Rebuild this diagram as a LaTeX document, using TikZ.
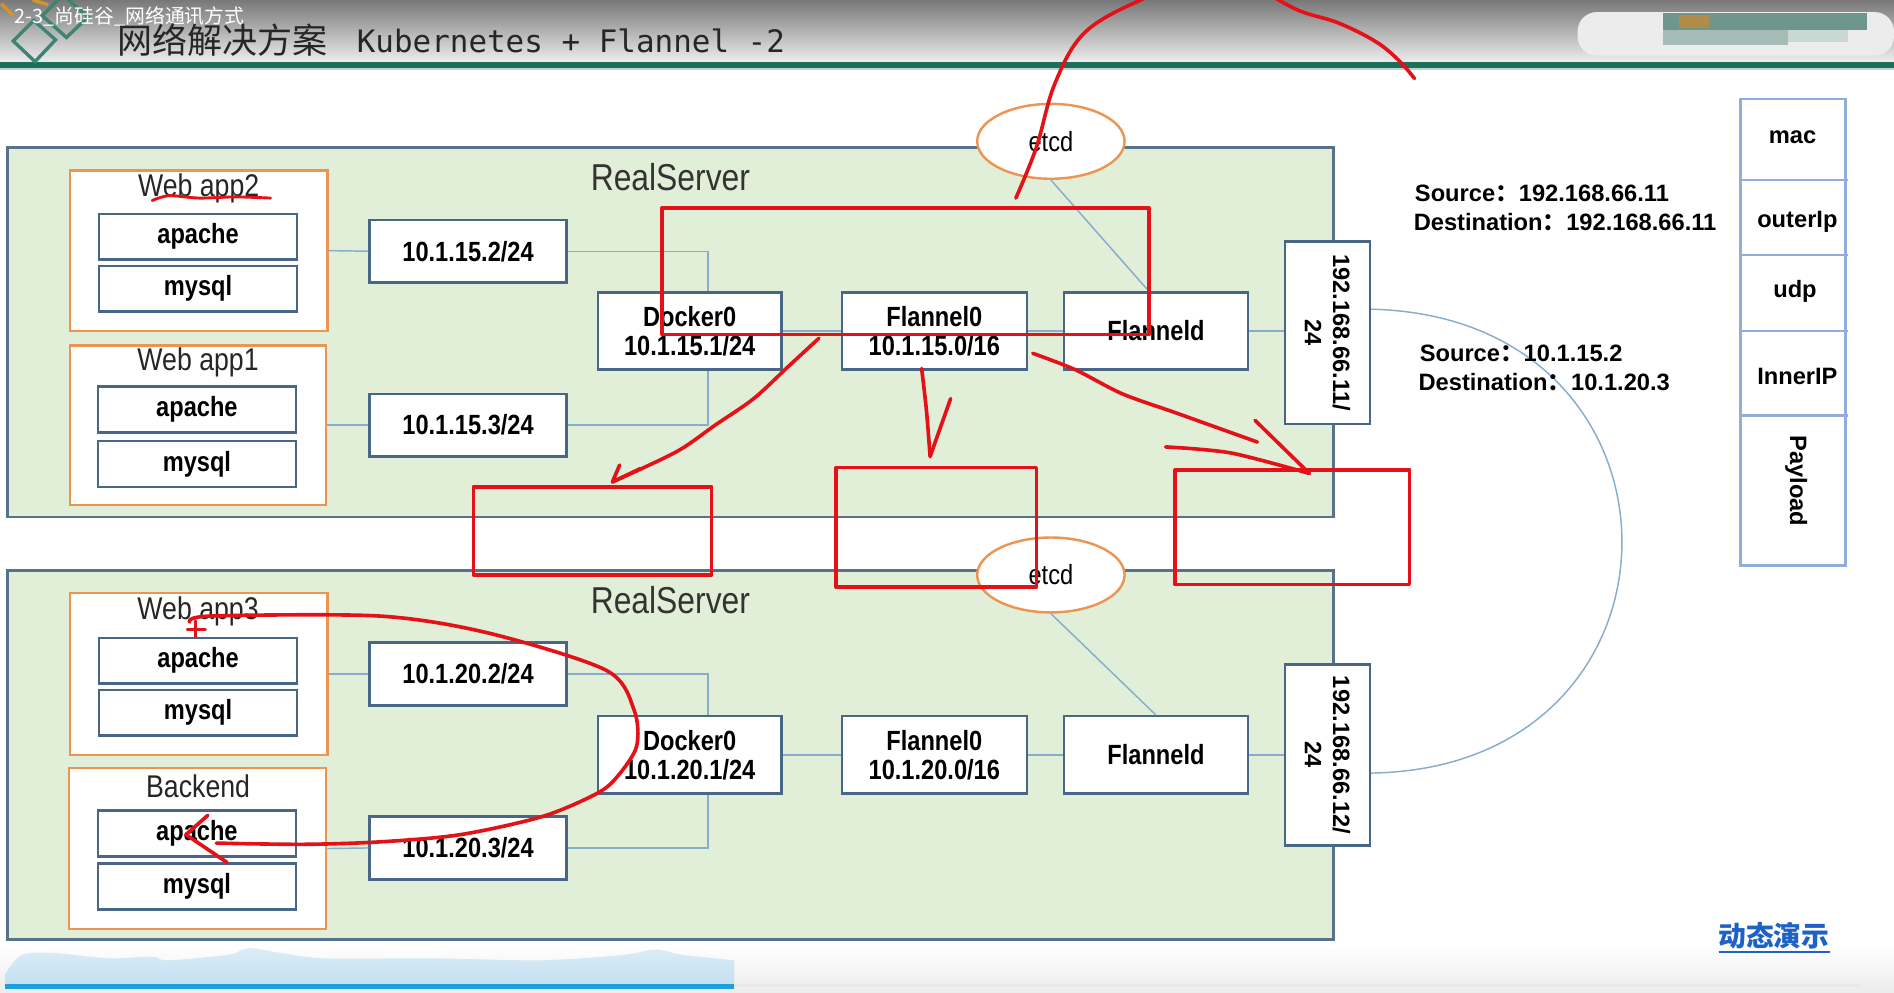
\documentclass[tikz,border=0pt]{standalone}
\usepackage{fontspec}
\setmainfont{Liberation Sans}
\newfontfamily\nar[FakeStretch=0.85]{Liberation Sans}
\newfontfamily\cjk{Noto Sans CJK SC}
\newfontfamily\monof{DejaVu Sans Mono}
\usetikzlibrary{shapes.geometric}
\definecolor{srvfill}{RGB}{225,239,217}
\definecolor{srvline}{RGB}{88,114,140}
\definecolor{boxline}{RGB}{72,102,136}
\definecolor{orng}{RGB}{236,148,82}
\definecolor{conn}{RGB}{135,172,205}
\definecolor{redink}{RGB}{228,18,24}
\definecolor{stackline}{RGB}{146,172,220}
\definecolor{barteal}{RGB}{26,112,90}
\definecolor{bartop}{RGB}{120,120,120}
\definecolor{barbot}{RGB}{236,236,236}
\definecolor{wave}{RGB}{196,224,241}
\definecolor{progress}{RGB}{30,160,222}
\definecolor{demo}{RGB}{30,98,200}
\definecolor{logoorange}{RGB}{210,150,40}
\definecolor{blurA}{RGB}{110,150,140}
\definecolor{blurB}{RGB}{165,188,182}
\definecolor{blurC}{RGB}{176,140,70}
\tikzset{
  server/.style={draw=srvline, line width=1.2pt, fill=srvfill, inner sep=0pt, minimum width=549pt, minimum height=153pt},
  appbox/.style={draw=orng, line width=1pt, fill=white, inner sep=0pt, minimum width=106.5pt, minimum height=66.5pt},
  svcbox/.style={draw=boxline, line width=1pt, fill=white, inner sep=0pt, minimum width=82pt, minimum height=19pt, font=\nar\bfseries\fontsize{11.5}{12}\selectfont},
  ipbox/.style={svcbox, minimum width=81.5pt, minimum height=26pt},
  devbox/.style={svcbox, align=center, minimum width=76pt, minimum height=32pt},
  ethbox/.style={draw=boxline, line width=1pt, fill=white, inner sep=0pt, minimum width=35pt, minimum height=75.5pt},
  ethtext/.style={rotate=-90, align=center, inner sep=0pt, font=\bfseries\fontsize{9.8}{11.7}\selectfont},
  etcdnode/.style={ellipse, draw=orng, line width=1pt, fill=white, inner sep=0pt, minimum width=61pt, minimum height=31pt, font=\nar\fontsize{11.5}{12}\selectfont},
  apptitle/.style={inner sep=0pt, font=\nar\fontsize{13}{14}\selectfont, text=black!85},
  srvtitle/.style={inner sep=0pt, font=\nar\fontsize{15.5}{16}\selectfont, text=black!80},
  link/.style={draw=conn, line width=0.6pt},
  infotext/.style={anchor=west, inner sep=0pt, text height=7pt, text depth=0pt, font=\bfseries\fontsize{9.8}{11}\selectfont},
  stacklabel/.style={inner sep=0pt, font=\bfseries\fontsize{9.8}{11}\selectfont},
  ink/.style={draw=redink, line width=1.5pt, line cap=round, line join=round},
}
\begin{document}
\begin{tikzpicture}[x=0.5pt,y=-0.5pt]
\useasboundingbox (0,0) rectangle (1568,822);
\fill[white] (0,0) rectangle (1568,822);
% ---------- title bar ----------
\shade[top color=bartop, bottom color=barbot] (0,0) rectangle (1568,51);
\fill[barteal] (0,51) rectangle (1568,56);
\fill[barteal!30] (0,56) rectangle (1568,58);
\fill[gray!15, rounded corners=8pt] (1306,10) rectangle (1568,46);
\fill[blurA] (1377,11) rectangle (1546,25);
\fill[blurB] (1377,25) rectangle (1480,37);
\fill[blurB!60] (1480,25) rectangle (1530,35);
\fill[blurC] (1390,12.5) rectangle (1415,23.5);
% logo
\draw[barteal!85, line width=1.4pt] (11,34) -- (28,17) -- (46,33) -- (29,51) -- cycle;
\draw[barteal!85, line width=1.4pt] (35,13) -- (52,-4) -- (73,14) -- (55,31) -- cycle;
\draw[logoorange, line width=1.4pt] (1,3) -- (11,13);
\draw[logoorange, line width=1.4pt] (27,0) -- (40,4);
\node[anchor=west, inner sep=0pt, text height=6.5pt, text depth=1pt, text=white, font=\cjk\fontsize{8.2}{9}\selectfont] (ov) at (12,14) {2-3\_尚硅谷\_网络通讯方式};
\node[anchor=west, inner sep=0pt, text height=10pt, text depth=0.5pt, font=\cjk\fontsize{14.5}{16}\selectfont, text=black!85] (title) at (97,35) {网络解决方案};
\node[anchor=west, inner sep=0pt, font=\monof\fontsize{12.8}{14}\selectfont, text=black!85] (title2) at (295,34) {Kubernetes + Flannel -2};
% ---------- bottom strip ----------
\shade[top color=white, bottom color=gray!15] (0,782) rectangle (1568,822);
\shade[top color=wave!60!white, bottom color=wave] plot[smooth] coordinates {(4.5,806) (18,790.5) (45,789) (90,793.4) (125.6,792) (139,795) (188.5,790.5) (206,785) (233,789) (269,793.4) (359,793.4) (448.7,795) (516,790.5) (543,786) (565,790.5) (608,795)} -- (608,814.6) -- (4.5,814.6) -- cycle;
\fill[progress] (4.5,814.6) rectangle (608,818.5);
\fill[gray!18] (608,815) rectangle (1540,817.5);
% ---------- servers ----------
\node[server] (srv1) at (555,275) {};
\node[server] (srv2) at (555,625) {};
\node[srvtitle] (rs1) at (555,147) {RealServer};
\node[srvtitle] (rs2) at (555,497) {RealServer};
% upper apps
\node[appbox] (web2) at (164.5,207.5) {};
\node[apptitle] (web2t) at (164.5,156) {Web app2};
\node[svcbox] (ap2) at (164,196) {apache};
\node[svcbox] (my2) at (164,239) {mysql};
\node[appbox, minimum width=106pt, minimum height=66pt] (web1) at (164,352) {};
\node[apptitle] (web1t) at (164,300) {Web app1};
\node[svcbox] (ap1) at (163,339) {apache};
\node[svcbox] (my1) at (163,384) {mysql};
% lower apps
\node[appbox, minimum height=67pt] (web3) at (164.5,558) {};
\node[apptitle] (web3t) at (164,506) {Web app3};
\node[svcbox] (ap3) at (164,547) {apache};
\node[svcbox] (my3) at (164,590) {mysql};
\node[appbox] (back) at (163.5,702.5) {};
\node[apptitle] (backt) at (164,651) {Backend};
\node[svcbox] (ap4) at (163,690) {apache};
\node[svcbox] (my4) at (163,734) {mysql};
% ip boxes
\node[ipbox] (ip2) at (387.5,208) {10.1.15.2/24};
\node[ipbox] (ip3) at (387.5,352) {10.1.15.3/24};
\node[ipbox] (ip4) at (387.5,558) {10.1.20.2/24};
\node[ipbox] (ip5) at (387.5,702) {10.1.20.3/24};
% devices
\node[devbox] (dk1) at (571,274) {Docker0\\10.1.15.1/24};
\node[devbox, minimum width=76.5pt] (fl1) at (773.5,274) {Flannel0\\10.1.15.0/16};
\node[devbox] (fd1) at (957,274) {Flanneld};
\node[devbox] (dk2) at (571,625) {Docker0\\10.1.20.1/24};
\node[devbox, minimum width=76.5pt] (fl2) at (773.5,625) {Flannel0\\10.1.20.0/16};
\node[devbox] (fd2) at (957,625) {Flanneld};
\node[ethbox] (eth1) at (1099,275.5) {};
\node[ethtext] (eth1t) at (eth1.center) {192.168.66.11/\\24};
\node[ethbox, minimum height=75pt] (eth2) at (1099,625) {};
\node[ethtext] (eth2t) at (eth2.center) {192.168.66.12/\\24};
% connectors
\draw[link] (web2.east) -- (ip2.west);
\draw[link] (ip2.east) -| ([xshift=7.5pt]dk1.north);
\draw[link] (web1.east) -- (ip3.west);
\draw[link] (ip3.east) -| ([xshift=7.5pt]dk1.south);
\draw[link] (dk1.east) -- (fl1.west);
\draw[link] (fl1.east) -- (fd1.west);
\draw[link] (fd1.east) -- (fd1.east -| eth1.west);
\draw[link] (web3.east) -- (ip4.west);
\draw[link] (ip4.east) -| ([xshift=7.5pt]dk2.north);
\draw[link] (back.east) -- (ip5.west);
\draw[link] (ip5.east) -| ([xshift=7.5pt]dk2.south);
\draw[link] (dk2.east) -- (fl2.west);
\draw[link] (fl2.east) -- (fd2.west);
\draw[link] (fd2.east) -- (fd2.east -| eth2.west);
% etcd
\node[etcdnode] (etcd1) at (870,117) {etcd};
\node[etcdnode] (etcd2) at (870,476) {etcd};
\draw[link] (etcd1.south) -- ([xshift=-3pt]fd1.north);
\draw[link] (etcd2.south) -- (fd2.north);
\draw[link] ([yshift=9.75pt]eth1.east) .. controls (1412,262) and (1412,636) .. ([yshift=-7.5pt]eth2.east);
% info texts
\node[infotext] (src1) at (1171,159.5) {Source{\cjk ：}192.168.66.11};
\node[infotext] (dst1) at (1170,184) {Destination{\cjk ：}192.168.66.11};
\node[infotext] (src2) at (1175,292) {Source{\cjk ：}10.1.15.2};
\node[infotext] (dst2) at (1174,316) {Destination{\cjk ：}10.1.20.3};
% packet stack
\node[draw=stackline, line width=1.1pt, inner sep=0pt, minimum width=43.5pt, minimum height=193pt] (stack) at (1484.5,275) {};
\draw[stackline, line width=0.9pt] (1441,149) -- (1530,149);
\draw[stackline, line width=0.9pt] (1441,211) -- (1530,211);
\draw[stackline, line width=0.9pt] (1441,274) -- (1530,274);
\draw[stackline, line width=0.9pt] (1441,344) -- (1530,344);
\node[stacklabel] (lmac) at (1484,114) {mac};
\node[stacklabel] (lout) at (1488,184) {outerIp};
\node[stacklabel] (ludp) at (1486,241) {udp};
\node[stacklabel] (linn) at (1488,312) {InnerIP};
\node[stacklabel, rotate=-90] (lpay) at (1487,398) {Payload};
% demo link
\node[inner sep=0pt, text=demo, font=\cjk\bfseries\fontsize{11.5}{12}\selectfont] (demo) at (1468.5,774.5) {动态演示};
\draw[demo, line width=0.8pt] (1423,788) -- (1515,788);
% ---------- red ink ----------
\begin{scope}
\clip (0,0) rectangle (1568,822);
\draw[ink] plot[smooth, tension=0.6] coordinates {(841,164) (858,122) (873,70) (897,28) (940,2) (990,-15) (1040,-8) (1076,9) (1108,19) (1139,34.5) (1158,50) (1171,65)};
\end{scope}
\draw[ink] (548,172) rectangle (951,277);
\draw[ink] (392,403) rectangle (589,476);
\draw[ink] (692,387) rectangle (858,486);
\draw[ink] (973,389) rectangle (1167,484);
\draw[ink, line width=1.2pt] plot[smooth] coordinates {(126,166) (140,162) (165,164) (195,163) (224,164)};
\draw[ink] plot[smooth] coordinates {(678,280) (652,304) (624,330) (592,352) (560,374) (507,399)};
\draw[ink] (513,385) -- (507,399) -- (530,388);
\draw[ink] plot[smooth] coordinates {(763,305) (767,340) (770,378)};
\draw[ink] (770,378) -- (787,330);
\draw[ink] plot[smooth] coordinates {(855,292.5) (890,306) (929,326) (974,342) (1041,366)};
\draw[ink] plot[smooth] coordinates {(965,370) (1019,375) (1084,392)};
\draw[ink] (1039,348) -- (1084,392);
\draw[ink] plot[smooth] coordinates {(157,515) (175,510) (314,510) (404,524) (502,555) (525,588) (527,618) (511,643) (494,657) (449,676) (381,691) (314,697) (251,699) (179,698)};
\draw[ink] (172,675) -- (154,691) -- (188,714);
\draw[ink, line width=1.2pt] (161.5,514) -- (161.5,527);
\draw[ink, line width=1.2pt] (155,521) -- (170,521);
\end{tikzpicture}
\end{document}
